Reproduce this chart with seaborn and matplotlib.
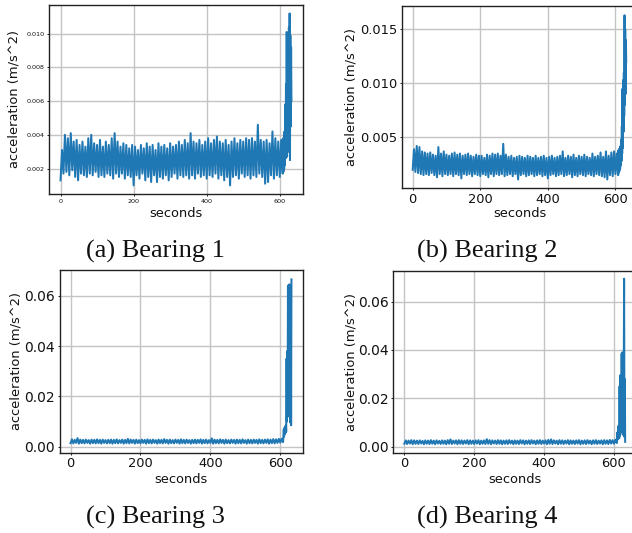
import numpy as np
import pandas as pd
import matplotlib
matplotlib.use("Agg")
import matplotlib.pyplot as plt
from matplotlib.ticker import StrMethodFormatter
import seaborn as sns

# ---- data ----
# time stamps: every 4 s in the steady part, every 1 s in the failure part
seconds = np.concatenate([np.arange(0, 609, 4), np.arange(609, 633)])

bearing1 = [
    0.0013, 0.0031, 0.0017, 0.0040, 0.0018, 0.0038, 0.0016, 0.0041, 0.0019, 0.0036,
    0.0015, 0.0037, 0.0013, 0.0034, 0.0017, 0.0036, 0.0016, 0.0033, 0.0015, 0.0038,
    0.0017, 0.0040, 0.0016, 0.0035, 0.0018, 0.0034, 0.0015, 0.0037, 0.0016, 0.0033,
    0.0015, 0.0036, 0.0017, 0.0034, 0.0016, 0.0038, 0.0014, 0.0041, 0.0017, 0.0036,
    0.0015, 0.0033, 0.0017, 0.0035, 0.0014, 0.0034, 0.0016, 0.0032, 0.0015, 0.0034,
    0.0010, 0.0033, 0.0016, 0.0031, 0.0014, 0.0034, 0.0017, 0.0032, 0.0013, 0.0035,
    0.0015, 0.0033, 0.0012, 0.0034, 0.0016, 0.0031, 0.0012, 0.0035, 0.0015, 0.0033,
    0.0014, 0.0034, 0.0016, 0.0032, 0.0013, 0.0035, 0.0015, 0.0033, 0.0017, 0.0034,
    0.0014, 0.0036, 0.0016, 0.0034, 0.0015, 0.0037, 0.0016, 0.0035, 0.0014, 0.0041,
    0.0016, 0.0036, 0.0014, 0.0035, 0.0017, 0.0037, 0.0015, 0.0034, 0.0016, 0.0036,
    0.0014, 0.0038, 0.0016, 0.0035, 0.0015, 0.0037, 0.0017, 0.0039, 0.0014, 0.0036,
    0.0016, 0.0035, 0.0013, 0.0037, 0.0015, 0.0034, 0.0010, 0.0036, 0.0015, 0.0038,
    0.0016, 0.0035, 0.0014, 0.0037, 0.0017, 0.0036, 0.0015, 0.0038, 0.0016, 0.0037,
    0.0014, 0.0038, 0.0016, 0.0036, 0.0015, 0.0046, 0.0017, 0.0037, 0.0015, 0.0036,
    0.0011, 0.0037, 0.0012, 0.0035, 0.0016, 0.0042, 0.0014, 0.0038, 0.0016, 0.0036,
    0.0015, 0.0037, 0.0017,
    0.0038, 0.0018, 0.0034, 0.0020, 0.0042, 0.0022, 0.0058, 0.0026, 0.0070, 0.0030,
    0.0101, 0.0027, 0.0096, 0.0035, 0.0099, 0.0030, 0.0104, 0.0040, 0.0112, 0.0025,
    0.0099, 0.0045, 0.0092, 0.0060,
]

bearing2 = [
    0.0020, 0.0039, 0.0018, 0.0042, 0.0017, 0.0041, 0.0016, 0.0037, 0.0015, 0.0036,
    0.0016, 0.0035, 0.0015, 0.0036, 0.0017, 0.0034, 0.0015, 0.0033, 0.0013, 0.0041,
    0.0016, 0.0035, 0.0014, 0.0037, 0.0016, 0.0034, 0.0015, 0.0033, 0.0016, 0.0035,
    0.0014, 0.0036, 0.0016, 0.0034, 0.0015, 0.0035, 0.0012, 0.0033, 0.0016, 0.0034,
    0.0015, 0.0035, 0.0016, 0.0033, 0.0014, 0.0032, 0.0016, 0.0034, 0.0015, 0.0033,
    0.0014, 0.0033, 0.0016, 0.0031, 0.0015, 0.0034, 0.0013, 0.0033, 0.0016, 0.0035,
    0.0014, 0.0034, 0.0016, 0.0035, 0.0015, 0.0033, 0.0016, 0.0044, 0.0014, 0.0034,
    0.0015, 0.0032, 0.0016, 0.0033, 0.0014, 0.0031, 0.0016, 0.0032, 0.0011, 0.0033,
    0.0015, 0.0032, 0.0016, 0.0031, 0.0014, 0.0033, 0.0015, 0.0032, 0.0016, 0.0031,
    0.0014, 0.0033, 0.0015, 0.0031, 0.0016, 0.0032, 0.0014, 0.0033, 0.0015, 0.0031,
    0.0012, 0.0032, 0.0015, 0.0033, 0.0016, 0.0031, 0.0014, 0.0032, 0.0015, 0.0033,
    0.0016, 0.0037, 0.0014, 0.0031, 0.0015, 0.0033, 0.0016, 0.0032, 0.0013, 0.0034,
    0.0015, 0.0031, 0.0014, 0.0033, 0.0016, 0.0032, 0.0015, 0.0034, 0.0014, 0.0032,
    0.0016, 0.0031, 0.0015, 0.0035, 0.0014, 0.0032, 0.0016, 0.0033, 0.0015, 0.0036,
    0.0014, 0.0032, 0.0013, 0.0037, 0.0011, 0.0033, 0.0015, 0.0036, 0.0014, 0.0037,
    0.0016, 0.0035, 0.0015,
    0.0038, 0.0017, 0.0039, 0.0019, 0.0040, 0.0021, 0.0042, 0.0024, 0.0048, 0.0028,
    0.0060, 0.0035, 0.0095, 0.0040, 0.0103, 0.0055, 0.0110, 0.0070, 0.0163, 0.0080,
    0.0150, 0.0090, 0.0140, 0.0120,
]

bearing3 = [
    0.0014, 0.0029, 0.0013, 0.0027, 0.0015, 0.0034, 0.0012, 0.0028, 0.0014, 0.0027,
    0.0013, 0.0028, 0.0015, 0.0026, 0.0012, 0.0028, 0.0014, 0.0027, 0.0013, 0.0029,
    0.0014, 0.0027, 0.0012, 0.0028, 0.0015, 0.0026, 0.0013, 0.0027, 0.0014, 0.0028,
    0.0012, 0.0027, 0.0014, 0.0029, 0.0013, 0.0026, 0.0015, 0.0028, 0.0012, 0.0027,
    0.0014, 0.0031, 0.0013, 0.0028, 0.0015, 0.0027, 0.0012, 0.0028, 0.0014, 0.0026,
    0.0013, 0.0028, 0.0015, 0.0027, 0.0012, 0.0029, 0.0014, 0.0027, 0.0013, 0.0028,
    0.0015, 0.0026, 0.0012, 0.0028, 0.0014, 0.0027, 0.0013, 0.0030, 0.0015, 0.0027,
    0.0012, 0.0028, 0.0014, 0.0026, 0.0013, 0.0028, 0.0015, 0.0027, 0.0012, 0.0029,
    0.0014, 0.0027, 0.0013, 0.0028, 0.0015, 0.0026, 0.0012, 0.0027, 0.0014, 0.0028,
    0.0013, 0.0027, 0.0015, 0.0029, 0.0012, 0.0027, 0.0014, 0.0028, 0.0013, 0.0026,
    0.0015, 0.0033, 0.0012, 0.0028, 0.0014, 0.0027, 0.0013, 0.0029, 0.0015, 0.0027,
    0.0012, 0.0028, 0.0014, 0.0026, 0.0013, 0.0028, 0.0015, 0.0027, 0.0012, 0.0028,
    0.0014, 0.0027, 0.0013, 0.0029, 0.0015, 0.0026, 0.0012, 0.0028, 0.0014, 0.0027,
    0.0013, 0.0028, 0.0015, 0.0027, 0.0012, 0.0029, 0.0014, 0.0027, 0.0013, 0.0028,
    0.0015, 0.0029, 0.0012, 0.0028, 0.0014, 0.0030, 0.0013, 0.0029, 0.0015, 0.0031,
    0.0016, 0.0032, 0.0018,
    0.0045, 0.0068, 0.0040, 0.0075, 0.0050, 0.0080, 0.0055, 0.0085, 0.0060, 0.0350,
    0.0100, 0.0380, 0.0150, 0.0640, 0.0120, 0.0600, 0.0180, 0.0645, 0.0130, 0.0550,
    0.0095, 0.0620, 0.0085, 0.0665,
]

bearing4 = [
    0.0012, 0.0026, 0.0011, 0.0025, 0.0013, 0.0027, 0.0010, 0.0026, 0.0012, 0.0025,
    0.0011, 0.0026, 0.0013, 0.0024, 0.0010, 0.0026, 0.0012, 0.0025, 0.0011, 0.0027,
    0.0012, 0.0025, 0.0010, 0.0026, 0.0013, 0.0024, 0.0011, 0.0026, 0.0012, 0.0025,
    0.0010, 0.0027, 0.0012, 0.0030, 0.0011, 0.0025, 0.0013, 0.0026, 0.0010, 0.0027,
    0.0012, 0.0026, 0.0011, 0.0025, 0.0013, 0.0027, 0.0010, 0.0026, 0.0012, 0.0025,
    0.0011, 0.0026, 0.0013, 0.0027, 0.0010, 0.0025, 0.0012, 0.0026, 0.0011, 0.0031,
    0.0012, 0.0027, 0.0010, 0.0026, 0.0013, 0.0025, 0.0011, 0.0027, 0.0012, 0.0026,
    0.0010, 0.0025, 0.0012, 0.0026, 0.0011, 0.0027, 0.0013, 0.0025, 0.0010, 0.0026,
    0.0012, 0.0025, 0.0011, 0.0027, 0.0013, 0.0026, 0.0010, 0.0025, 0.0012, 0.0026,
    0.0011, 0.0027, 0.0013, 0.0025, 0.0010, 0.0026, 0.0012, 0.0027, 0.0011, 0.0025,
    0.0013, 0.0026, 0.0010, 0.0028, 0.0012, 0.0030, 0.0011, 0.0026, 0.0013, 0.0025,
    0.0010, 0.0027, 0.0012, 0.0026, 0.0011, 0.0025, 0.0013, 0.0027, 0.0010, 0.0026,
    0.0012, 0.0025, 0.0011, 0.0026, 0.0013, 0.0027, 0.0010, 0.0025, 0.0012, 0.0026,
    0.0011, 0.0027, 0.0013, 0.0025, 0.0010, 0.0026, 0.0012, 0.0027, 0.0011, 0.0025,
    0.0013, 0.0026, 0.0010, 0.0027, 0.0012, 0.0026, 0.0011, 0.0028, 0.0013, 0.0027,
    0.0012, 0.0029, 0.0015,
    0.0035, 0.0060, 0.0030, 0.0085, 0.0040, 0.0070, 0.0035, 0.0250, 0.0045, 0.0295,
    0.0060, 0.0250, 0.0080, 0.0385, 0.0100, 0.0390, 0.0050, 0.0380, 0.0090, 0.0300,
    0.0695, 0.0040, 0.0280, 0.0020,
]

captions = ["(a) Bearing 1", "(b) Bearing 2", "(c) Bearing 3", "(d) Bearing 4"]
yticks_1 = [0.002, 0.004, 0.006, 0.008, 0.010]
yticks_2 = [0.005, 0.010, 0.015]
yticks_34 = [0.00, 0.02, 0.04, 0.06]
xticks = [0, 200, 400, 600]

# ---- figure ----
W, H = 632, 533
fig = plt.figure(figsize=(W / 100, H / 100), dpi=100)


def px_axes(left, top, right, bottom):
    return fig.add_axes([left / W, 1 - bottom / H, (right - left) / W, (bottom - top) / H])


panels = [
    dict(series=bearing1, box=(49, 5, 303, 194), ylim=(0.00049, 0.0117), yticks=yticks_1,
         fmt="{x:.3f}", xtick_fs=4.6, ytick_fs=4.6, ylab_x=-0.111, xlab_y=-0.069,
         cap=(155, 258)),
    dict(series=bearing2, box=(402, 6, 636.9, 188), ylim=(0.00031, 0.01716), yticks=yticks_2,
         fmt="{x:.3f}", xtick_fs=9.4, ytick_fs=9.4, ylab_x=-0.189, xlab_y=-0.104,
         cap=(487, 258)),
    dict(series=bearing3, box=(59.5, 270.3, 302.5, 452.7), ylim=(-0.0024, 0.0701), yticks=yticks_34,
         fmt="{x:.2f}", xtick_fs=9.4, ytick_fs=10.0, ylab_x=-0.154, xlab_y=-0.111,
         cap=(155, 524)),
    dict(series=bearing4, box=(393.3, 270.7, 636.2, 452.7), ylim=(-0.0025, 0.0728), yticks=yticks_34,
         fmt="{x:.2f}", xtick_fs=9.4, ytick_fs=10.0, ylab_x=-0.147, xlab_y=-0.112,
         cap=(487, 524)),
]

for p, cap in zip(panels, captions):
    ax = px_axes(*p["box"])
    df = pd.DataFrame({"seconds": seconds, "acceleration": p["series"]})
    sns.lineplot(data=df, x="seconds", y="acceleration", ax=ax, color="#1f77b4",
                 linewidth=1.45, estimator=None, sort=False)
    ax.set_xlim(-31.6, 663.6)
    ax.set_ylim(*p["ylim"])
    ax.set_xticks(xticks)
    ax.set_yticks(p["yticks"])
    ax.yaxis.set_major_formatter(StrMethodFormatter(p["fmt"]))
    ax.grid(True, color="#c4c4c4", linewidth=1.0)
    ax.set_axisbelow(True)
    for s in ax.spines.values():
        s.set_color("#222222")
        s.set_linewidth(1.0)
    ax.tick_params(axis="both", length=1.7, width=0.7, pad=1.7,
                   colors="#222222", labelcolor="#111111")
    ax.tick_params(axis="x", labelsize=p["xtick_fs"])
    ax.tick_params(axis="y", labelsize=p["ytick_fs"])
    ax.set_xlabel("seconds", fontsize=9.4, color="#111111")
    ax.set_ylabel("acceleration (m/s^2)", fontsize=9.4, color="#111111")
    ax.yaxis.set_label_coords(p["ylab_x"], 0.5)
    ax.xaxis.set_label_coords(0.5, p["xlab_y"])
    ax.xaxis.label.set_va("top")
    cx, cy = p["cap"]
    fig.text(cx / W, 1 - cy / H, cap, ha="center", va="baseline",
             fontsize=19, family="Liberation Serif", color="#111111")

fig.savefig("out.png", dpi=100)
